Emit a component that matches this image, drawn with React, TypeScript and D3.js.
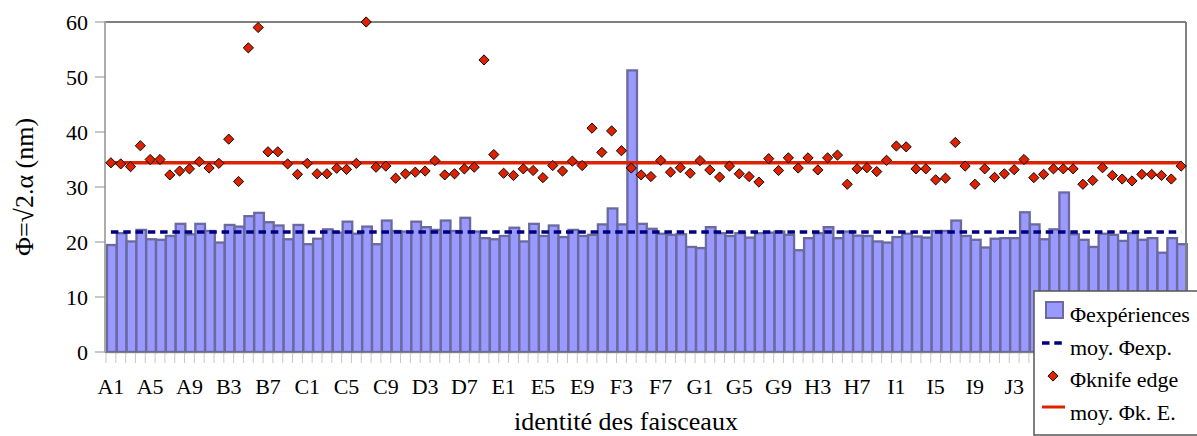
import React from "react";
import * as d3 from "d3";

const letters = ["A", "B", "C", "D", "E", "F", "G", "H", "I", "J", "K"];
const categories: string[] = letters.flatMap((l) => d3.range(1, 11).map((n) => l + n));

const phiExp: number[] = [
  19.45, 21.6, 20.1, 22.2, 20.5, 20.4, 21.1, 23.3, 21.4, 23.3,
  22.0, 19.9, 23.1, 22.8, 24.7, 25.3, 23.6, 23.0, 20.5, 23.1,
  19.6, 20.6, 22.3, 21.7, 23.7, 21.5, 22.8, 19.6, 23.9, 22.0,
  21.9, 23.7, 22.7, 22.2, 23.9, 22.0, 24.4, 21.9, 20.7, 20.5,
  21.1, 22.6, 20.1, 23.3, 21.1, 23.0, 20.9, 22.2, 21.1, 21.3,
  23.2, 26.1, 23.2, 51.2, 23.3, 22.4, 21.5, 21.3, 21.4, 19.1,
  18.9, 22.7, 21.6, 21.1, 21.6, 20.8, 21.6, 21.7, 21.9, 21.3,
  18.5, 20.7, 21.6, 22.7, 20.7, 21.9, 21.15, 21.1, 20.1, 19.9,
  20.9, 21.5, 21.0, 20.8, 22.0, 22.0, 23.9, 21.1, 20.4, 19.0,
  20.6, 20.7, 20.7, 25.4, 23.2, 20.5, 22.3, 29.0, 21.4, 20.4,
  19.1, 21.5, 21.3, 20.2, 21.6, 20.4, 20.7, 18.05, 20.7, 19.6,
];

const phiKnife: number[] = [
  34.4, 34.2, 33.7, 37.5, 35.0, 35.0, 32.2, 32.9, 33.3, 34.6,
  33.45, 34.3, 38.7, 31.0, 55.3, 59.0, 36.4, 36.4, 34.2, 32.3,
  34.3, 32.4, 32.4, 33.4, 33.2, 34.3, 60.0, 33.6, 33.8, 31.6,
  32.4, 32.7, 32.9, 34.8, 32.2, 32.4, 33.3, 33.6, 53.1, 35.9,
  32.5, 32.1, 33.3, 33.0, 31.7, 33.9, 32.9, 34.7, 33.9, 40.7,
  36.3, 40.2, 36.6, 33.45, 32.2, 31.9, 34.85, 32.7, 33.5, 32.5,
  34.8, 33.1, 31.8, 33.8, 32.4, 31.9, 30.9, 35.15, 33.0, 35.3,
  33.45, 35.3, 33.1, 35.3, 35.8, 30.5, 33.3, 33.5, 32.8, 34.85,
  37.45, 37.3, 33.3, 33.3, 31.3, 31.6, 38.1, 33.8, 30.5, 33.3,
  31.75, 32.4, 33.15, 35.0, 31.7, 32.3, 33.3, 33.3, 33.3, 30.5,
  31.2, 33.5, 32.1, 31.45, 31.1, 32.3, 32.3, 32.1, 31.45, 33.8,
];

const meanExp = 21.8;
const meanKnife = 34.4;
const yTicks = [0, 10, 20, 30, 40, 50, 60];
const legendLabels = ["Φexpériences", "moy. Φexp.", "Φknife edge", "moy. Φk. E."];

const W = 1197;
const H = 436;
const left = 106;
const right = 1186;
const top = 22;
const bottom = 352;
const font = "Liberation Serif, Times New Roman, Times, DejaVu Serif, serif";

export default function App() {
  const x = d3.scaleBand<string>().domain(categories).range([left, right]).padding(0);
  const y = d3.scaleLinear().domain([0, 60]).range([bottom, top]);
  const bw = x.bandwidth();
  const diamond = d3.symbol().type(d3.symbolSquare).size(52)() as string;
  const legX = 1034;
  const legY = 291;

  return (
    <svg
      width={W}
      height={H}
      style={{ position: "absolute", left: 0, top: 0, background: "#fff", fontFamily: font }}
    >
      {/* bars */}
      {phiExp.map((v, i) => (
        <rect
          key={"b" + i}
          x={x(categories[i])! + 1}
          y={y(v)}
          width={bw - 0.2}
          height={bottom - y(v)}
          fill="#9999ff"
          stroke="#6a6a9f"
          strokeWidth={2.3}
        />
      ))}
      {/* frame */}
      <line x1={left} x2={right} y1={top} y2={top} stroke="#808080" strokeWidth={2} />
      <line x1={right} x2={right} y1={top} y2={bottom} stroke="#808080" strokeWidth={2} />
      <line x1={left - 1} x2={left - 1} y1={top - 1} y2={bottom} stroke="#909090" strokeWidth={1.5} />
      <line x1={left - 1} x2={right} y1={bottom + 0.5} y2={bottom + 0.5} stroke="#808080" strokeWidth={1} />
      {/* y ticks */}
      {yTicks.map((t) => (
        <g key={"yt" + t}>
          <line x1={left - 11} x2={left - 1} y1={y(t)} y2={y(t)} stroke="#909090" strokeWidth={1} />
          <text x={88} y={y(t)} dy="0.35em" textAnchor="end" fontSize={22} fill="#000">
            {t}
          </text>
        </g>
      ))}
      {/* x ticks at category boundaries */}
      {categories.map((c, i) => (
        <line
          key={"xt" + i}
          x1={x(c)!}
          x2={x(c)!}
          y1={bottom + 1}
          y2={bottom + 11}
          stroke="#c8c8c8"
          strokeWidth={1}
        />
      ))}
      <line x1={right} x2={right} y1={bottom + 1} y2={bottom + 11} stroke="#c8c8c8" strokeWidth={1} />
      {categories.map((c, i) =>
        i % 4 === 0 && x(c)! + bw / 2 < legX - 15 ? (
          <text
            key={"xl" + i}
            x={x(c)! + bw / 2}
            y={394}
            textAnchor="middle"
            fontSize={22}
            fill="#000"
          >
            {c}
          </text>
        ) : null
      )}
      {/* mean lines */}
      <line
        x1={x(categories[0])! + bw / 2}
        x2={x(categories[categories.length - 1])! + bw / 2}
        y1={y(meanExp)}
        y2={y(meanExp)}
        stroke="#000080"
        strokeWidth={3.5}
        strokeDasharray="7.5,4.8"
      />
      <line
        x1={x(categories[0])! + bw / 2}
        x2={x(categories[categories.length - 1])! + bw / 2}
        y1={y(meanKnife)}
        y2={y(meanKnife)}
        stroke="#dd2200"
        strokeWidth={3.5}
      />
      {/* diamonds */}
      {phiKnife.map((v, i) => (
        <path
          key={"d" + i}
          d={diamond}
          transform={`translate(${x(categories[i])! + bw / 2},${y(v)}) rotate(45)`}
          fill="#dd2200"
          stroke="#000"
          strokeWidth={0.9}
        />
      ))}
      {/* axis titles */}
      <text x={626} y={430} textAnchor="middle" fontSize={26} fill="#000">
        identité des faisceaux
      </text>
      <text
        transform={`translate(33,${(top + bottom) / 2}) rotate(-90)`}
        textAnchor="middle"
        fontSize={26}
        fill="#000"
      >
        Φ=√2.α (nm)
      </text>
      {/* legend */}
      <g>
        <rect x={legX} y={legY} width={W - legX + 4} height={144} fill="#fff" stroke="#555" strokeWidth={1.5} />
        <rect x={1046} y={302} width={17} height={16} fill="#9999ff" stroke="#6a6a9f" strokeWidth={2} />
        <line x1={1042} x2={1064} y1={343} y2={343} stroke="#000080" strokeWidth={3.5} strokeDasharray="7.5,4.8" />
        <path d={diamond} transform="translate(1053,376) rotate(45)" fill="#dd2200" stroke="#000" strokeWidth={0.9} />
        <line x1={1042} x2={1065} y1={407} y2={407} stroke="#dd2200" strokeWidth={3} />
        {legendLabels.map((t, i) => (
          <text key={"lg" + i} x={1070} y={322 + i * 32.5} fontSize={22} fill="#000">
            {t}
          </text>
        ))}
      </g>
    </svg>
  );
}
